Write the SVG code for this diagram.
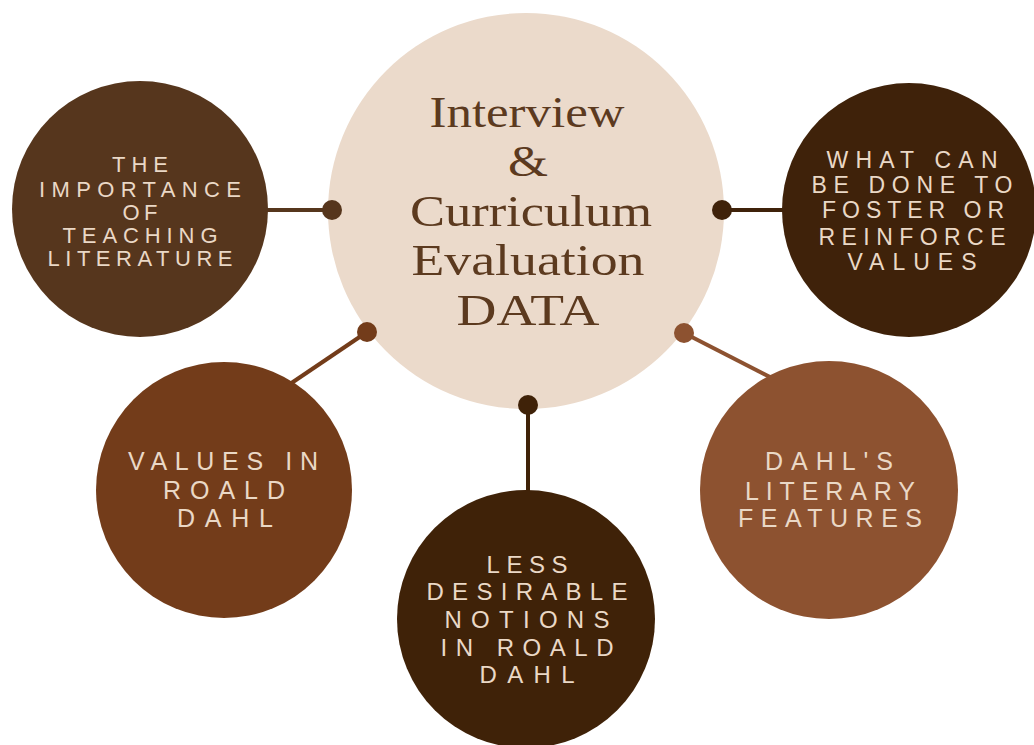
<svg xmlns="http://www.w3.org/2000/svg" width="1034" height="745" viewBox="0 0 1034 745">
  <style>
    .hub { fill: #EBDACB; }
    .title { font-family: "Liberation Serif", "DejaVu Serif", serif; font-size: 44px; fill: #5C3A1F; text-anchor: middle; }
    .label { font-family: "Liberation Sans", "Noto Sans", sans-serif; fill: #EAD8C6; text-anchor: middle; }
    .wire { stroke-width: 4; fill: none; }
  </style>
  <rect width="1034" height="745" fill="#FFFFFF"/>

  <!-- central topic -->
  <g id="center">
    <circle class="hub" cx="526" cy="211" r="198"/>
    <text class="title" x="527" y="127" textLength="195" lengthAdjust="spacingAndGlyphs">Interview</text>
    <text class="title" x="528" y="176" textLength="40" lengthAdjust="spacingAndGlyphs">&amp;</text>
    <text class="title" x="531" y="226" textLength="242" lengthAdjust="spacingAndGlyphs">Curriculum</text>
    <text class="title" x="528" y="275" textLength="233" lengthAdjust="spacingAndGlyphs">Evaluation</text>
    <text class="title" x="528" y="325" textLength="143" lengthAdjust="spacingAndGlyphs">DATA</text>
  </g>

  <!-- spokes with their anchor dots -->
  <g id="connectors">
    <line class="wire" x1="332" y1="210" x2="266" y2="210" stroke="#56361D"/>
    <circle cx="332" cy="210" r="10" fill="#56361D"/>
    <line class="wire" x1="722" y1="210" x2="786" y2="210" stroke="#3F220A"/>
    <circle cx="722" cy="210" r="10" fill="#3F220A"/>
    <line class="wire" x1="367" y1="332" x2="290" y2="384" stroke="#733C1A"/>
    <circle cx="367" cy="332" r="10" fill="#733C1A"/>
    <line class="wire" x1="684" y1="333" x2="772" y2="378" stroke="#8D5230"/>
    <circle cx="684" cy="333" r="10" fill="#8D5230"/>
    <line class="wire" x1="528" y1="405" x2="528" y2="492" stroke="#3F2208"/>
    <circle cx="528" cy="405" r="10" fill="#3F2208"/>
  </g>

  <g id="importance">
    <circle cx="140" cy="209" r="128" fill="#56361D"/>
    <g class="label" font-size="22">
      <text x="140" y="172" textLength="56" lengthAdjust="spacing">THE</text>
      <text x="140" y="197" textLength="202" lengthAdjust="spacing">IMPORTANCE</text>
      <text x="140" y="220" textLength="35" lengthAdjust="spacing">OF</text>
      <text x="140" y="243" textLength="155" lengthAdjust="spacing">TEACHING</text>
      <text x="140" y="266" textLength="185" lengthAdjust="spacing">LITERATURE</text>
    </g>
  </g>

  <g id="foster">
    <circle cx="909" cy="210" r="127" fill="#3F220A"/>
    <g class="label" font-size="23">
      <text x="912" y="168" textLength="171" lengthAdjust="spacing">WHAT CAN</text>
      <text x="912" y="193" textLength="201" lengthAdjust="spacing">BE DONE TO</text>
      <text x="913" y="218" textLength="182" lengthAdjust="spacing">FOSTER OR</text>
      <text x="912" y="245" textLength="187" lengthAdjust="spacing">REINFORCE</text>
      <text x="912" y="270" textLength="129" lengthAdjust="spacing">VALUES</text>
    </g>
  </g>

  <g id="values">
    <circle cx="224" cy="490" r="128" fill="#733C1A"/>
    <g class="label" font-size="25">
      <text x="223" y="470" textLength="190" lengthAdjust="spacing">VALUES IN</text>
      <text x="224" y="499" textLength="122" lengthAdjust="spacing">ROALD</text>
      <text x="225" y="527" textLength="96" lengthAdjust="spacing">DAHL</text>
    </g>
  </g>

  <g id="notions">
    <circle cx="526" cy="619" r="129" fill="#3F2208"/>
    <g class="label" font-size="24">
      <text x="527" y="573" textLength="81" lengthAdjust="spacing">LESS</text>
      <text x="527" y="600" textLength="201" lengthAdjust="spacing">DESIRABLE</text>
      <text x="527" y="628" textLength="165" lengthAdjust="spacing">NOTIONS</text>
      <text x="527" y="656" textLength="173" lengthAdjust="spacing">IN ROALD</text>
      <text x="527" y="683" textLength="95" lengthAdjust="spacing">DAHL</text>
    </g>
  </g>

  <g id="features">
    <circle cx="829" cy="490" r="129" fill="#8D5230"/>
    <g class="label" font-size="25">
      <text x="829" y="470" textLength="128" lengthAdjust="spacing">DAHL'S</text>
      <text x="830" y="500" textLength="170" lengthAdjust="spacing">LITERARY</text>
      <text x="830" y="527" textLength="184" lengthAdjust="spacing">FEATURES</text>
    </g>
  </g>
</svg>
